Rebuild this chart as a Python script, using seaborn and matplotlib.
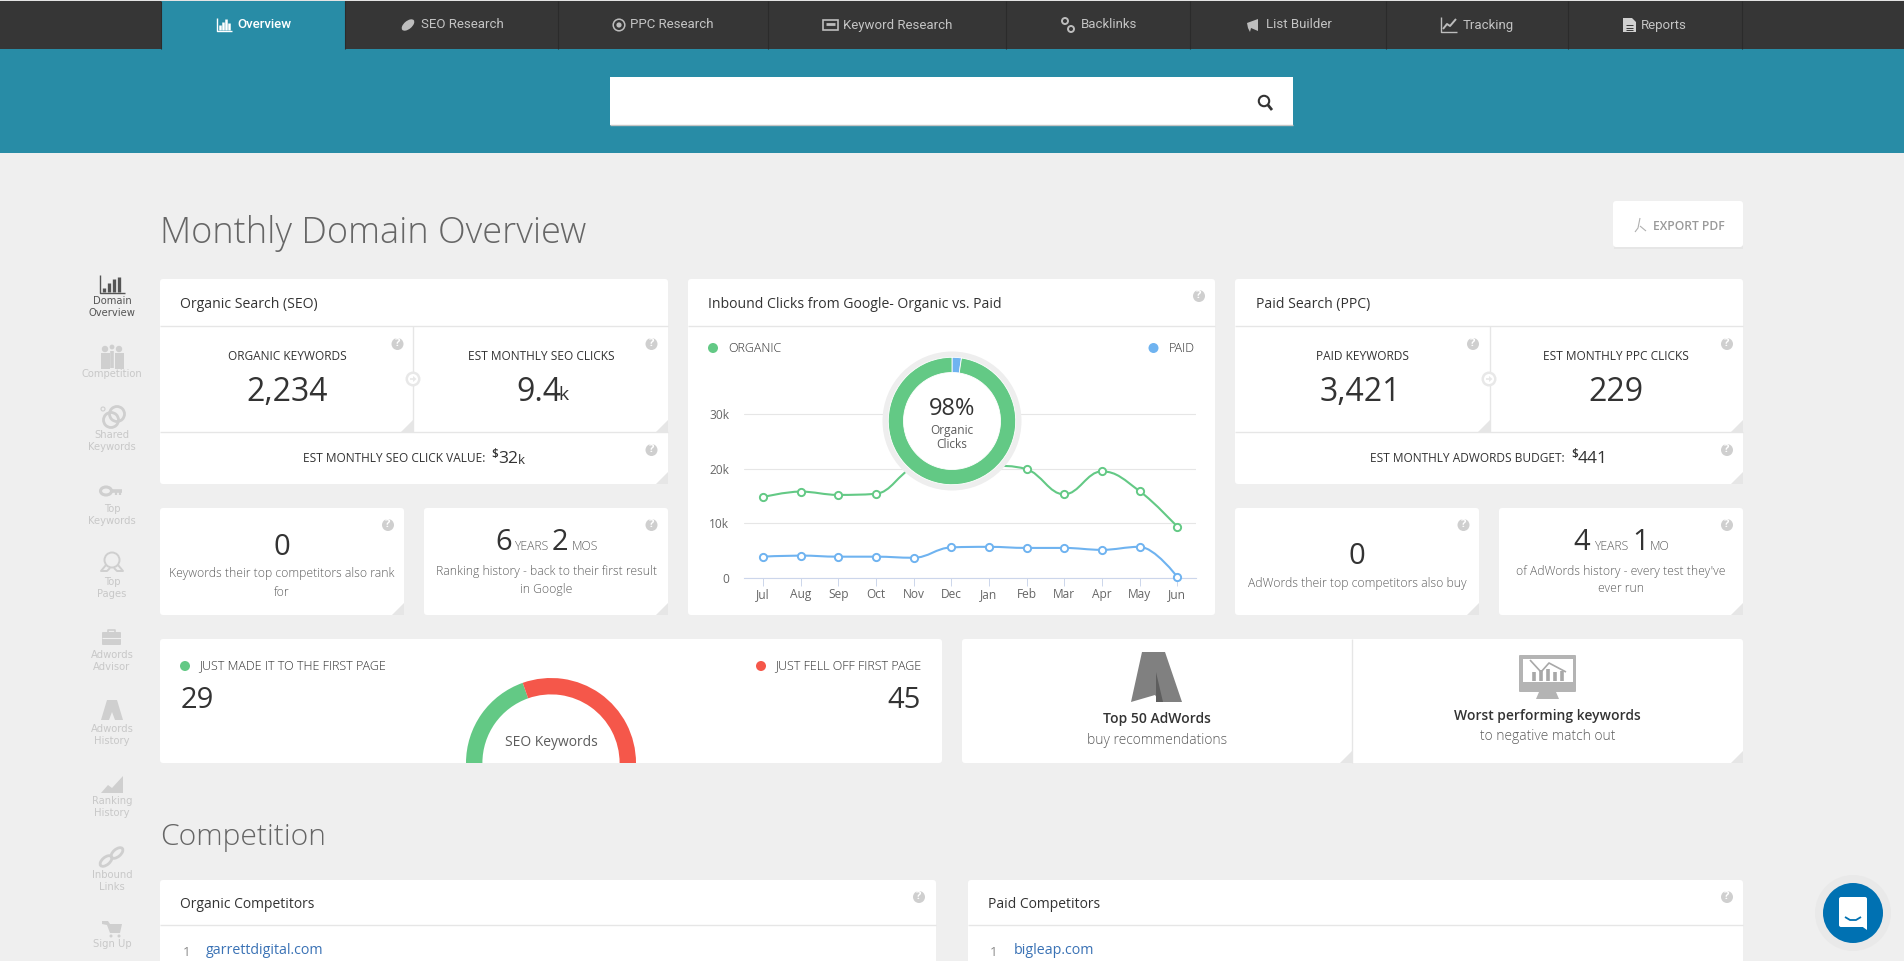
import pandas as pd
import seaborn as sns
import matplotlib.pyplot as plt
from matplotlib.patches import Circle, Ellipse, FancyBboxPatch, PathPatch, Polygon, Rectangle
from matplotlib.path import Path

# Chart values
months = ["Jul", "Aug", "Sep", "Oct", "Nov", "Dec", "Jan", "Feb", "Mar", "Apr", "May", "Jun"]
organic_clicks = [14800, 15800, 15200, 15400, 20300, 21500, 20700, 19900, 15300, 19500, 15900, 9400]
paid_clicks = [3900, 4100, 3900, 3900, 3700, 5600, 5700, 5500, 5500, 5150, 5700, 229]
y_ticks = [0, 10000, 20000, 30000]
y_tick_labels = ["0", "10k", "20k", "30k"]
click_share = [229, 9400]  # paid, organic
first_page_moves = [29, 45]  # made it, fell off

# Page text
nav_labels = ["Overview", "SEO Research", "PPC Research", "Keyword Research",
              "Backlinks", "List Builder", "Tracking", "Reports"]
side_labels = ["Domain\nOverview", "Competition", "Shared\nKeywords", "Top\nKeywords", "Top\nPages",
               "Adwords\nAdvisor", "Adwords\nHistory", "Ranking\nHistory", "Inbound\nLinks", "Sign Up"]

W, H = 1904, 961
GREEN, BLUE, RED = "#63c985", "#6fb3f0", "#f5574a"
TEAL, DARK, PAGE = "#288ca6", "#363636", "#efefef"
INK, SOFT, PALE = "#333333", "#5c5c5c", "#cccccc"

sns.set_theme(style="white")
plt.rcParams["font.family"] = ["Open Sans", "DejaVu Sans"]

fig = plt.figure(figsize=(W / 100, H / 100), dpi=100, facecolor=PAGE)
page = fig.add_axes([0, 0, 1, 1], zorder=1)
page.set_xlim(0, W)
page.set_ylim(H, 0)
page.axis("off")


def px_axes(x0, y0, x1, y1, zorder):
    new_ax = fig.add_axes([x0 / W, 1 - y1 / H, (x1 - x0) / W, (y1 - y0) / H], zorder=zorder)
    new_ax.patch.set_alpha(0)
    return new_ax


def rect(x0, y0, x1, y1, color, z=1):
    page.add_patch(Rectangle((x0, y0), x1 - x0, y1 - y0, fc=color, ec="none", zorder=z))


def card(x0, y0, x1, y1):
    page.add_patch(FancyBboxPatch((x0 + 3, y0 + 3), x1 - x0 - 6, y1 - y0 - 6, boxstyle="round,pad=3,rounding_size=3",
                                  fc="white", ec="none", zorder=1))


def circ(x, y, r, color, z=3, ec="none", lw=0):
    page.add_patch(Circle((x, y), r, fc=color, ec=ec, lw=lw, zorder=z))


def poly(points, color, z=3):
    page.add_patch(Polygon(points, closed=True, fc=color, ec="none", zorder=z))


def seg(xs, ys, color, lw=1.0, z=3):
    page.plot(xs, ys, color=color, lw=lw, zorder=z, solid_capstyle="butt")


def txt(x, y, s, size, color=INK, ha="center", weight="normal", family=None, z=5):
    kw = {"family": family} if family else {}
    page.text(x, y, s, fontsize=size, color=color, ha=ha, va="center", fontweight=weight, zorder=z, **kw)


def fold(x, y):
    poly([(x, y), (x - 12, y), (x, y - 12)], "#e6e6e6", z=2)


def help_icon(x, y):
    circ(x, y, 6, "#cfcfcf")
    txt(x, y - 0.3, "?", 8, "white", weight="bold")


def arrow_icon(x, y):
    circ(x, y, 10, "white", z=2)
    circ(x, y, 7.5, "#e8e8e8", z=3)
    circ(x, y, 5, "white", z=3)
    seg([x - 3.5, x + 2], [y, y], "#e8e8e8", 1.2, z=4)
    poly([(x + 3.5, y), (x, y - 3), (x, y + 3)], "#e8e8e8", z=4)


# Top navigation and search band
rect(0, 0, W, 49, DARK)
rect(0, 0, W, 1, "#e4e4e4", z=2)
rect(0, 49, W, 153, TEAL)
rect(161, 1, 345, 49, TEAL, z=2)
for sep in [161, 345, 557.5, 768, 1006, 1190, 1386, 1568, 1742]:
    seg([sep, sep], [1, 49], "#2b2b2b", 0.8)
rect(610, 77, 1293, 125, "white", z=2)
seg([610, 1293], [125, 125], "#c4c4c4", 1.0)
circ(1264, 101, 5.2, "none", ec=INK, lw=1.5)
seg([1268, 1272], [105, 110], INK, 2.0)

nav_left = [237, 421, 630, 843, 1081, 1266, 1463, 1641]
for i, label in enumerate(nav_labels):
    txt(nav_left[i], 25, label, 9.5, "white" if i == 0 else "#c4c4c4", ha="left",
        weight="medium" if i == 0 else "normal", family="Roboto")

NAV = "#bdbdbd"
# overview bars
seg([217, 217, 232], [18, 31, 31], "white", 1.0)
for bx, top in zip([220, 223, 226, 229], [25, 22, 19, 23]):
    seg([bx, bx], [30, top], "white", 1.8)
page.add_patch(Ellipse((408, 25), 15, 8, angle=-40, fc=NAV, ec="none", zorder=3))
circ(619, 25, 5.8, "none", ec=NAV, lw=1.1)
circ(619, 25, 2.6, NAV)
page.add_patch(Rectangle((823, 20), 15, 10, fc="none", ec=NAV, lw=1.2, zorder=3))
seg([826, 835], [24, 24], NAV, 2.0)
circ(1065, 21, 3, "none", ec=NAV, lw=1.4)
circ(1071, 29, 3, "none", ec=NAV, lw=1.4)
poly([(1247, 23), (1258, 19), (1258, 31), (1251, 28), (1250, 32), (1248, 28)], NAV)
seg([1441, 1441, 1457], [17, 32, 32], NAV, 1.0)
seg([1443, 1447, 1450, 1456], [29, 24, 26, 19], NAV, 1.4)
poly([(1623, 18), (1632, 18), (1636, 22), (1636, 32), (1623, 32)], "#d0d0d0")
for ly in [25, 27.5, 30]:
    seg([1626, 1633], [ly, ly], DARK, 0.7)

# Heading and export button
txt(160, 233, "Monthly Domain Overview", 26, "#666666", ha="left", weight="light")
rect(1614, 204, 1743, 249, "#e6e6e6")
card(1613, 201, 1743, 247)
txt(1653, 226, "EXPORT PDF", 8.7, "#9a9a9a", ha="left", weight="semibold")
seg([1640, 1638, 1635], [218, 228, 232], "#b0b0b0", 0.8)
seg([1640, 1646], [226, 231], "#b0b0b0", 0.8)

# Left side menu
label_y = [307, 374, 441, 514.5, 588, 661, 734.5, 807, 880.5, 944]
for i, label in enumerate(side_labels):
    page.text(112, label_y[i], label, fontsize=7.2, color="#555555" if i == 0 else "#c8c8c8", ha="center",
              va="center", linespacing=1.25, family="DejaVu Sans", zorder=5)

IC = "#cfcfcf"
seg([100, 100, 125], [275, 293, 293], "#555555", 1.0)
for bx, top in zip([104, 109, 114, 119], [288, 283, 279, 277]):
    seg([bx, bx], [292, top], "#555555", 2.4)
for bx in [105, 119]:
    circ(bx, 349, 3.2, IC)
    rect(bx - 4.5, 353, bx + 4.5, 369, IC, z=3)
circ(112, 347, 2.4, IC)
seg([112, 112], [351, 368], IC, 2.6)
circ(103, 409, 2, "none", ec=IC, lw=0.8)
circ(111, 420, 7.5, "none", ec=IC, lw=2)
circ(117, 414, 7.5, "none", ec=IC, lw=2)
page.add_patch(Ellipse((106, 491), 11, 8, fc="none", ec=IC, lw=2.2, zorder=3))
seg([111, 122], [491, 491], IC, 2.6)
seg([116, 116], [491, 495], IC, 1.6)
seg([120, 120], [491, 495], IC, 1.6)
circ(112, 560, 7.5, "none", ec=IC, lw=1.4)
seg([106, 101, 107, 110], [565, 571, 571, 568], IC, 1.4)
seg([118, 123, 117, 114], [565, 571, 571, 568], IC, 1.4)
page.add_patch(FancyBboxPatch((103, 633), 17, 11, boxstyle="round,pad=1", fc=IC, ec="none", zorder=3))
seg([108, 108, 115, 115], [632, 630, 630, 632], IC, 1.2)
seg([102, 121], [638, 638], "#efefef", 0.8, z=4)
poly([(107, 700), (117, 700), (123, 720), (101, 720)], IC)
poly([(112, 712), (115, 720), (109, 720)], "#efefef", z=4)
poly([(101, 793), (108, 785), (112, 788), (123, 776), (123, 793)], IC)
page.add_patch(Ellipse((106, 861), 14, 7.5, angle=-40, fc="none", ec=IC, lw=2, zorder=3))
page.add_patch(Ellipse((117, 853), 14, 7.5, angle=-40, fc="none", ec=IC, lw=2, zorder=3))
poly([(102, 921), (108, 921), (110, 924), (122, 924), (120, 933), (110, 933), (107, 925), (102, 924)], IC)
circ(111, 936, 1.5, IC)
circ(119, 936, 1.5, IC)

# Organic search panel
card(160, 279, 668, 484)
seg([160, 668], [326, 326], "#e6e6e6")
seg([160, 668], [432, 432], "#e6e6e6")
seg([413, 413], [326, 432], "#e6e6e6")
for fx, fy in [(413, 432), (668, 432), (668, 484)]:
    fold(fx, fy)
arrow_icon(413, 379)
for hx, hy in [(397.5, 344), (651.5, 344), (651.5, 450)]:
    help_icon(hx, hy)
txt(180, 304.5, "Organic Search (SEO)", 10.1, ha="left")
txt(287, 357, "ORGANIC KEYWORDS", 8.6)
txt(287, 392.5, "2,234", 23)
txt(541, 357, "EST MONTHLY SEO CLICKS", 8.6)
txt(516, 392.5, "9.4", 23, ha="left")
txt(558, 395, "k", 14, ha="left")
txt(303, 459, "EST MONTHLY SEO CLICK VALUE:", 8.6, ha="left")
txt(491, 454, "$", 8.5, ha="left", weight="semibold")
txt(498, 459, "32", 12.5, ha="left", weight="medium")
txt(518, 461, "k", 9.5, ha="left", weight="medium")

card(160, 508, 404, 615)
card(424, 508, 668, 615)
fold(404, 615)
fold(668, 615)
help_icon(388, 525)
help_icon(651.5, 525)
txt(282, 547.5, "0", 21)
txt(282, 574, "Keywords their top competitors also rank", 8.7, SOFT, weight="light")
txt(282, 592, "for", 8.7, SOFT, weight="light")
txt(495, 543, "6", 21, ha="left")
txt(514, 547, "YEARS", 8.7, SOFT, ha="left", weight="light")
txt(552, 543, "2", 21, ha="left")
txt(571.5, 547, "MOS", 8.7, SOFT, ha="left", weight="light")
txt(546, 571, "Ranking history - back to their first result", 8.7, SOFT, weight="light")
txt(546, 589, "in Google", 8.7, SOFT, weight="light")

# Paid search panel
card(1235, 279, 1743, 484)
seg([1235, 1743], [326, 326], "#e6e6e6")
seg([1235, 1743], [432, 432], "#e6e6e6")
seg([1490, 1490], [326, 432], "#e6e6e6")
for fx, fy in [(1490, 432), (1743, 432), (1743, 484)]:
    fold(fx, fy)
arrow_icon(1489, 379)
for hx, hy in [(1473, 344), (1727, 344), (1727, 450)]:
    help_icon(hx, hy)
txt(1256, 304.5, "Paid Search (PPC)", 10.1, ha="left")
txt(1362, 357, "PAID KEYWORDS", 8.6)
txt(1360.5, 392.5, "3,421", 23)
txt(1616, 357, "EST MONTHLY PPC CLICKS", 8.6)
txt(1616, 392.5, "229", 23)
txt(1370, 459, "EST MONTHLY ADWORDS BUDGET:", 8.6, ha="left")
txt(1571, 454, "$", 8.5, ha="left", weight="semibold")
txt(1578, 459, "441", 12.5, ha="left", weight="medium")

card(1235, 508, 1479, 615)
card(1499, 508, 1743, 615)
fold(1479, 615)
fold(1743, 615)
help_icon(1463.5, 525)
help_icon(1727, 525)
txt(1357, 556.5, "0", 21)
txt(1357, 583, "AdWords their top competitors also buy", 8.7, SOFT, weight="light")
txt(1573, 543, "4", 21, ha="left")
txt(1594, 547, "YEARS", 8.7, SOFT, ha="left", weight="light")
txt(1632, 543, "1", 21, ha="left")
txt(1650, 547, "MO", 8.7, SOFT, ha="left", weight="light")
txt(1621, 571, "of AdWords history - every test they've", 8.7, SOFT, weight="light")
txt(1621, 589, "ever run", 8.7, SOFT, weight="light")

# Inbound clicks panel
card(688, 279, 1215, 615)
seg([688, 1215], [326, 326], "#e6e6e6")
help_icon(1199, 296)
txt(708, 304.5, "Inbound Clicks from Google- Organic vs. Paid", 10.1, ha="left")
circ(713, 348, 5, GREEN)
txt(728, 348, "ORGANIC", 9, ha="left", weight="light")
circ(1153.5, 348, 5, BLUE)
txt(1169, 348, "PAID", 9, ha="left", weight="light")

clicks = pd.DataFrame({"month": months, "organic": organic_clicks, "paid": paid_clicks})
ax = px_axes(744, 359.3, 1196, 578, zorder=2)


def spline(values):
    # smooth path through the monthly points, same tension as the original chart library
    n = len(values)

    def handles(i):
        y = values[i]
        if i == 0 or i == n - 1:
            return (i, y), (i, y)
        prev_y, next_y = values[i - 1], values[i + 1]
        lx, ly = (1.5 * i + i - 1) / 2.5, (1.5 * y + prev_y) / 2.5
        rx, ry = (1.5 * i + i + 1) / 2.5, (1.5 * y + next_y) / 2.5
        shift = (ry - ly) * (rx - i) / (rx - lx) + y - ry
        ly, ry = ly + shift, ry + shift
        # no overshoot past the neighbouring points
        if ly > prev_y and ly > y:
            ly = max(prev_y, y)
            ry = 2 * y - ly
        elif ly < prev_y and ly < y:
            ly = min(prev_y, y)
            ry = 2 * y - ly
        if ry > next_y and ry > y:
            ry = max(next_y, y)
            ly = 2 * y - ry
        elif ry < next_y and ry < y:
            ry = min(next_y, y)
            ly = 2 * y - ry
        return (lx, ly), (rx, ry)

    verts, codes = [(0, values[0])], [Path.MOVETO]
    for i in range(1, n):
        verts += [handles(i - 1)[1], handles(i)[0], (i, values[i])]
        codes += [Path.CURVE4] * 3
    return Path(verts, codes)


for column, color in [("organic", GREEN), ("paid", BLUE)]:
    ax.add_patch(PathPatch(spline(clicks[column].tolist()), fc="none", ec=color, lw=1.5, zorder=3, clip_on=False))
    sns.lineplot(data=clicks, x="month", y=column, color=color, linewidth=0, marker="o", markersize=5.2,
                 markerfacecolor="white", markeredgecolor=color, markeredgewidth=1.4,
                 sort=False, errorbar=None, clip_on=False, zorder=4, ax=ax)

ax.set_xlim(-0.5, 11.5)
ax.set_ylim(0, 40000)
ax.set_yticks(y_ticks, y_tick_labels)
ax.set_xlabel("")
ax.set_ylabel("")
ax.grid(axis="y", color="#e6e6e6", lw=0.8)
ax.set_axisbelow(True)
sns.despine(ax=ax, left=True)
ax.spines["bottom"].set_color("#ccd6eb")
ax.spines["bottom"].set_linewidth(0.8)
ax.tick_params(axis="x", length=6, width=0.7, color="#ccd6eb", labelcolor="#666666", labelsize=8.6, pad=1, bottom=True)
ax.tick_params(axis="y", length=0, labelcolor="#666666", labelsize=8.6, pad=10.5)

# Share donut sits on top of the lines; axes units are pixels
share = px_axes(882, 351, 1022, 491, zorder=3)
share.pie(click_share, colors=[BLUE, GREEN], startangle=90, counterclock=False, radius=63.7,
          wedgeprops={"width": 15.2, "edgecolor": "white", "linewidth": 0.6})
share.add_patch(Circle((0, 0), 69.5, fc="#eeeeee", ec="none", zorder=0))
share.add_patch(Circle((0, 0), 63.7, fc="white", ec="none", zorder=0))
share.set_xlim(-70, 70)
share.set_ylim(-70, 70)
share.text(0, 11.5, "98%", fontsize=17, color=INK, ha="center", va="center")
share.text(0, -9.5, "Organic", fontsize=8.6, color=SOFT, ha="center", va="center")
share.text(0, -23.5, "Clicks", fontsize=8.6, color=SOFT, ha="center", va="center")

# First page movement panel
card(160, 639, 942, 763)
circ(185, 666, 5, GREEN)
txt(199.5, 666, "JUST MADE IT TO THE FIRST PAGE", 9, ha="left", weight="light")
txt(180.5, 700.5, str(first_page_moves[0]), 21, ha="left")
circ(761, 666, 5, RED)
txt(921, 666, "JUST FELL OFF FIRST PAGE", 9, ha="right", weight="light")
txt(921, 700.5, str(first_page_moves[1]), 21, ha="right")
txt(551, 742, "SEO Keywords", 10, SOFT)

gauge = px_axes(466, 678, 636, 848, zorder=2)
# only the upper half shows, the rest of the ring stays transparent below the card
gauge.pie(first_page_moves + [sum(first_page_moves)], colors=[GREEN, RED, "none"], startangle=180,
          counterclock=False, radius=85, wedgeprops={"width": 16.4, "linewidth": 0})
gauge.set_xlim(-85, 85)
gauge.set_ylim(-85, 85)

# Recommendation cards
card(962, 639, 1743, 763)
seg([1352, 1352], [639, 763], "#e6e6e6")
fold(1352, 763)
fold(1743, 763)
poly([(1142, 652), (1165, 652), (1182, 702), (1160, 702), (1155, 695), (1131, 702)], "#808080")
poly([(1156, 672), (1163, 702), (1156, 702)], "#5e5e5e", z=4)
txt(1157, 719, "Top 50 AdWords", 10, weight="semibold")
txt(1157, 740, "buy recommendations", 10, SOFT, weight="light")
page.add_patch(FancyBboxPatch((1520, 656), 55, 35, boxstyle="round,pad=1", fc="#b4b4b4", ec="none", zorder=3))
rect(1523, 659, 1573, 682, "white", z=4)
poly([(1539, 692), (1556, 692), (1559, 699), (1536, 699)], "#b4b4b4")
seg([1530, 1541, 1549, 1566], [660, 672, 663, 672], "#a8a8a8", 1.2, z=5)
for bx, top in zip([1534, 1541, 1548, 1555, 1562], [672, 670, 669, 672, 671]):
    seg([bx, bx], [681, top], "#a8a8a8", 2.6, z=5)
txt(1547.5, 716, "Worst performing keywords", 10, weight="semibold")
txt(1547.5, 737, "to negative match out", 10, SOFT, weight="light")

# Competition section, cut off by the bottom of the page
txt(160, 837, "Competition", 21.6, "#666666", ha="left", weight="light")
card(160, 880, 936, 975)
card(968, 880, 1743, 975)
seg([160, 936], [925, 925], "#e6e6e6")
seg([968, 1743], [925, 925], "#e6e6e6")
txt(180.5, 904, "Organic Competitors", 10, ha="left")
txt(988, 904, "Paid Competitors", 10, ha="left")
help_icon(919, 897)
help_icon(1727, 897)
txt(187, 952, "1", 9.5, "#888888")
txt(994, 952, "1", 9.5, "#888888")
txt(206, 950, "garrettdigital.com", 10.3, "#3a72b5", ha="left")
txt(1014, 950, "bigleap.com", 10.3, "#3a72b5", ha="left")

# Chat bubble
circ(1853, 913, 38, "#e9e9e9", z=6)
circ(1853, 913, 30, "#0071b2", z=7)
page.add_patch(FancyBboxPatch((1841, 899), 24, 26, boxstyle="round,pad=2", fc="white", ec="none", zorder=8))
poly([(1860, 925), (1867, 925), (1867, 930)], "white", z=8)
seg([1845, 1850, 1856, 1861], [917, 920, 920, 917], "#0071b2", 1.3, z=9)

fig.savefig("out.png", dpi=100, facecolor=PAGE)
plt.close(fig)
